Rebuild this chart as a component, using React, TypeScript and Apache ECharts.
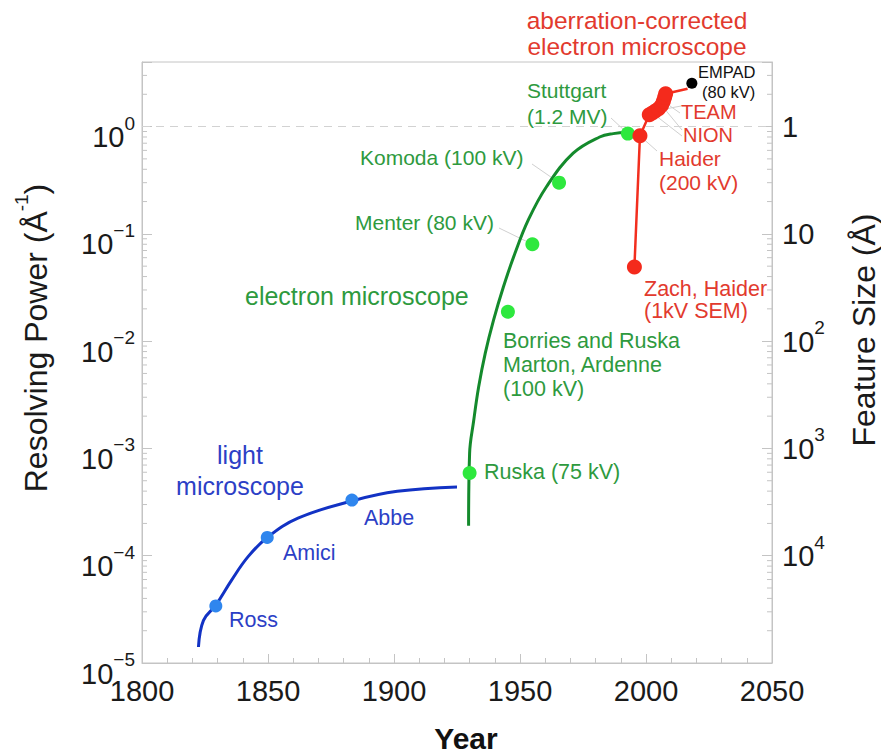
import React, { useEffect, useRef } from "react";
import * as echarts from "echarts";

// ---- data ----
const X_MIN = 1800;
const X_MAX = 2050;
const X_STEP = 50;
const Y_MIN = 1e-5;
const Y_MAX = 4;

const BLUE_CURVE: [number, number][] = [
  [1822.4, 1.41e-5],
  [1824.4, 2.5e-5],
  [1829.3, 3.47e-5],
  [1835.5, 5.9e-5],
  [1842.1, 9.8e-5],
  [1849.7, 1.48e-4],
  [1861.9, 2.24e-4],
  [1883.3, 3.24e-4],
  [1901.3, 3.98e-4],
  [1925.0, 4.37e-4],
];
const BLUE_POINTS: [number, number][] = [
  [1829.3, 3.4e-5],
  [1849.7, 1.48e-4],
  [1883.3, 3.3e-4],
];

const GREEN_CURVE: [number, number][] = [
  [1929.6, 1.9e-4],
  [1930.0, 9.0e-4],
  [1931.6, 1.8e-3],
  [1933.6, 3.76e-3],
  [1936.2, 7.7e-3],
  [1939.5, 0.0157],
  [1943.4, 0.032],
  [1948.0, 0.066],
  [1953.3, 0.135],
  [1960.5, 0.275],
  [1971.1, 0.565],
  [1981.6, 0.8],
  [1987.0, 0.86],
  [1992.8, 0.88],
];
const GREEN_POINTS: [number, number][] = [
  [1930.0, 5.9e-4],
  [1945.2, 0.0188],
  [1954.9, 0.08],
  [1965.5, 0.3],
  [1992.8, 0.86],
];

const RED_POINTS: [number, number][] = [
  [1995.4, 0.049],
  [1997.6, 0.82],
  [2001.3, 1.29],
  [2002.5, 1.34],
  [2003.7, 1.4],
  [2005.0, 1.47],
  [2006.2, 1.58],
  [2006.9, 1.72],
  [2007.4, 1.88],
  [2007.8, 2.02],
];
const RED_LINE_END: [number, number] = [2016.5, 2.25];
const EMPAD_POINT: [number, number] = [2018.2, 2.54];

const MINOR_MULTIPLES = [2, 3, 4, 5, 6, 7, 8, 9];
const DECADES = [-5, -4, -3, -2, -1, 0];

const FONT = '"Liberation Sans", Arial, Helvetica, sans-serif';
const AXIS_GRAY = "#c4c4c4";
const GREEN_T = "#2e9a3e";
const RED_T = "#e23a2e";
const BLUE_T = "#2c3fc6";

export default function App() {
  const ref = useRef<HTMLDivElement>(null);

  useEffect(() => {
    const chart = echarts.init(ref.current!, null, { renderer: "svg" });

    const minorVals: number[] = [];
    DECADES.forEach((d) =>
      MINOR_MULTIPLES.forEach((m) => {
        const v = m * Math.pow(10, d);
        if (v < Y_MAX) minorVals.push(v);
      })
    );

    const exp = (v: number) => {
      const l = Math.log10(v);
      const e = Math.round(l);
      return Math.abs(l - e) > 0.01 ? null : e;
    };
    const fmtLeft = (v: number) => {
      const e = exp(v);
      if (e === null) return "";
      return `{b|10}{s|${e < 0 ? "\u2212" + -e : e}}`;
    };
    const fmtRight = (v: number) => {
      const e = exp(v);
      if (e === null) return "";
      const f = -e;
      if (f === 0) return "{b|1}";
      if (f === 1) return "{b|10}";
      if (f >= 5 || f < 0) return "";
      return `{b|10}{s|${f}}`;
    };
    const labelRich = {
      b: { fontSize: 29, lineHeight: 38, verticalAlign: "bottom", color: "#1a1a1a", fontFamily: FONT },
      s: { fontSize: 19, verticalAlign: "top", color: "#1a1a1a", fontFamily: FONT },
    };

    const yAxisBase = {
      type: "log",
      logBase: 10,
      min: Y_MIN,
      max: Y_MAX,
      axisLine: { show: true, lineStyle: { color: AXIS_GRAY, width: 1 } },
      axisTick: { show: true, inside: true, length: 10, lineStyle: { color: AXIS_GRAY } },
      minorTick: { show: false },
      splitLine: { show: false },
    };

    chart.setOption({
      animation: false,
      textStyle: { fontFamily: FONT },
      grid: {
        left: 142,
        right: 109,
        top: 62,
        bottom: 92,
        show: true,
        borderColor: AXIS_GRAY,
        borderWidth: 1,
        backgroundColor: "transparent",
      },
      xAxis: {
        type: "value",
        min: X_MIN,
        max: X_MAX,
        interval: X_STEP,
        axisLine: { show: true, lineStyle: { color: AXIS_GRAY } },
        axisTick: { show: true, inside: true, length: 9, lineStyle: { color: AXIS_GRAY } },
        minorTick: { show: true, splitNumber: 5, length: 5, lineStyle: { color: AXIS_GRAY } },
        splitLine: { show: false },
        axisLabel: {
          fontSize: 29,
          color: "#1a1a1a",
          margin: 13,
          fontFamily: FONT,
          formatter: (v: number) => String(v),
        },
      },
      yAxis: [
        {
          ...yAxisBase,
          position: "left",
          axisLabel: { formatter: fmtLeft, rich: labelRich, margin: 7, padding: [12, 0, 0, 0] },
        },
        {
          ...yAxisBase,
          position: "right",
          axisLabel: { formatter: fmtRight, rich: labelRich, margin: 10, padding: [0, 0, 8, 0] },
        },
      ],
      series: [
        {
          type: "line",
          data: BLUE_CURVE,
          smooth: 0.4,
          showSymbol: false,
          lineStyle: { color: "#1232c4", width: 3 },
          z: 3,
        },
        {
          type: "scatter",
          data: BLUE_POINTS,
          symbolSize: 13,
          itemStyle: { color: "#2f86ee", opacity: 1 },
          z: 4,
        },
        {
          type: "line",
          data: GREEN_CURVE,
          smooth: 0.4,
          showSymbol: false,
          lineStyle: { color: "#148a2c", width: 3 },
          z: 3,
          markLine: {
            silent: true,
            symbol: "none",
            label: { show: false },
            lineStyle: { type: [8, 6], color: "#d2d2d2", width: 1 },
            data: [{ yAxis: 1 }],
          },
        },
        {
          type: "scatter",
          data: GREEN_POINTS,
          symbolSize: 14,
          itemStyle: { color: "#2ee83e", opacity: 1 },
          z: 4,
        },
        {
          type: "line",
          data: [...RED_POINTS, RED_LINE_END],
          showSymbol: false,
          lineStyle: { color: "#f22e1e", width: 2.5 },
          z: 5,
        },
        {
          type: "scatter",
          data: RED_POINTS,
          symbolSize: 15,
          itemStyle: { color: "#f42a1c", opacity: 1 },
          z: 6,
        },
        {
          type: "scatter",
          data: [EMPAD_POINT],
          symbolSize: 11,
          itemStyle: { color: "#000000", opacity: 1 },
          z: 7,
        },
        {
          type: "custom",
          coordinateSystem: "cartesian2d",
          silent: true,
          clip: false,
          data: minorVals.map((v) => [X_MIN, v]),
          encode: { x: 0, y: 1 },
          renderItem: (_p: any, api: any) => {
            const v = api.value(1);
            const l = api.coord([X_MIN, v]);
            const r = api.coord([X_MAX, v]);
            return {
              type: "group",
              children: [
                { type: "line", shape: { x1: l[0], y1: l[1], x2: l[0] + 5, y2: l[1] }, style: { stroke: AXIS_GRAY, lineWidth: 1 } },
                { type: "line", shape: { x1: r[0] - 5, y1: r[1], x2: r[0], y2: r[1] }, style: { stroke: AXIS_GRAY, lineWidth: 1 } },
              ],
            };
          },
          z: 1,
        },
      ],
    });

    const px = (p: [number, number]) =>
      chart.convertToPixel({ xAxisIndex: 0, yAxisIndex: 0 }, p) as number[];

    const leaders: { from: [number, number]; to: [number, number] }[] = [
      { from: [532, 164], to: GREEN_POINTS[3] },
      { from: [499, 228], to: GREEN_POINTS[2] },
      { from: [611, 118], to: GREEN_POINTS[4] },
      { from: [680, 113], to: RED_POINTS[7] },
      { from: [681, 106], to: RED_POINTS[4] },
      { from: [682, 136], to: RED_POINTS[3] },
      { from: [682, 130], to: RED_POINTS[6] },
      { from: [657, 151], to: RED_POINTS[1] },
    ];

    const txt = (
      text: string,
      x: number,
      y: number,
      color: string,
      size: number,
      align: string = "left"
    ) => ({
      type: "text",
      x,
      y,
      silent: true,
      style: {
        text,
        fill: color,
        fontSize: size,
        fontFamily: FONT,
        align,
        verticalAlign: "middle",
      },
    });

    const graphics: any[] = [
      ...leaders.map((l) => {
        const t = px(l.to);
        return {
          type: "line",
          silent: true,
          shape: { x1: l.from[0], y1: l.from[1], x2: t[0], y2: t[1] },
          style: { stroke: "#d0d0d0", lineWidth: 1 },
        };
      }),
      txt("aberration-corrected", 637, 20, RED_T, 24.5, "center"),
      txt("electron microscope", 637, 46.5, RED_T, 24.5, "center"),
      txt("EMPAD", 698, 71.5, "#111111", 16.5),
      txt("(80 kV)", 702, 92, "#111111", 16.5),
      txt("TEAM", 681, 112, RED_T, 20),
      txt("NION", 683, 135, RED_T, 20),
      txt("Stuttgart", 527, 90, GREEN_T, 21),
      txt("(1.2 MV)", 527, 116, GREEN_T, 21),
      txt("Haider", 659, 158.5, RED_T, 21),
      txt("(200 kV)", 659, 182, RED_T, 21),
      txt("Komoda (100 kV)", 360, 157, GREEN_T, 21),
      txt("Menter (80 kV)", 355, 222, GREEN_T, 21),
      txt("electron microscope", 245, 296, GREEN_T, 25),
      txt("Borries and Ruska", 503, 341, GREEN_T, 21.5),
      txt("Marton, Ardenne", 503, 365, GREEN_T, 21.5),
      txt("(100 kV)", 503, 389, GREEN_T, 21.5),
      txt("Zach, Haider", 644, 289, RED_T, 21.5),
      txt("(1kV SEM)", 644, 311, RED_T, 21.5),
      txt("Ruska (75 kV)", 484, 472, GREEN_T, 21.5),
      txt("light", 240, 455, BLUE_T, 25, "center"),
      txt("microscope", 240, 486, BLUE_T, 25, "center"),
      txt("Abbe", 364, 518, BLUE_T, 21.5),
      txt("Amici", 283, 553, BLUE_T, 21.5),
      txt("Ross", 229, 620, BLUE_T, 21.5),
      {
        type: "text",
        x: 466,
        y: 738,
        silent: true,
        style: {
          text: "Year",
          fill: "#111111",
          fontSize: 30,
          fontWeight: "bold",
          fontFamily: FONT,
          align: "center",
          verticalAlign: "middle",
        },
      },
      {
        type: "text",
        x: 31.5,
        y: 338,
        rotation: Math.PI / 2,
        silent: true,
        style: {
          text: "{b|Resolving Power (\u00c5}{s|-1}{b|)}",
          align: "center",
          verticalAlign: "middle",
          rich: {
            b: { fontSize: 32, lineHeight: 40, verticalAlign: "bottom", fill: "#1a1a1a", fontFamily: FONT },
            s: { fontSize: 19, verticalAlign: "top", fill: "#1a1a1a", fontFamily: FONT },
          },
        },
      },
      {
        type: "text",
        x: 863.5,
        y: 330,
        rotation: Math.PI / 2,
        silent: true,
        style: {
          text: "Feature Size (\u00c5)",
          fill: "#1a1a1a",
          fontSize: 32,
          fontFamily: FONT,
          align: "center",
          verticalAlign: "middle",
        },
      },
    ];

    chart.setOption({ graphic: graphics });

    return () => chart.dispose();
  }, []);

  return (
    <div
      ref={ref}
      style={{ position: "absolute", left: 0, top: 0, width: 881, height: 755 }}
    />
  );
}
